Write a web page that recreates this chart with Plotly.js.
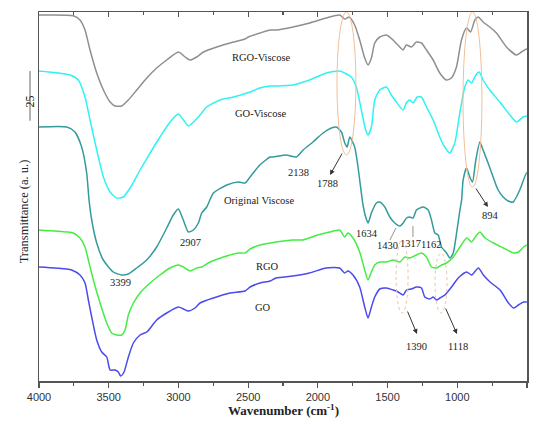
<!DOCTYPE html>
<html>
<head>
<meta charset="utf-8">
<script src="https://cdn.plot.ly/plotly-3.0.1.min.js"></script>
<style>html,body{margin:0;padding:0;background:#fff;}#chart{width:536px;height:425px;}</style>
</head>
<body>
<div id="chart"></div>
<script>
// ---- Data (wavenumber in cm^-1, transmittance in a.u., curves offset as in the figure) ----
const rgoViscoseX = [4000,3754,3706,3670,3634,3586,3538,3490,3455,3407,3359,3299,3227,3156,3084,3000,2952,2916,2869,2821,2725,2605,2522,2498,2414,2342,2298,2178,2059,1939,1843,1807,1776,1736,1700,1664,1640,1616,1592,1556,1508,1461,1413,1389,1365,1329,1293,1257,1221,1173,1126,1078,1042,1006,970,934,905,874,850,815,767,719,647,576,540,504,500];
const rgoViscoseY = [183,182.6,180.5,175.5,165.5,154,145.5,139.5,137.5,137.5,140.5,145.5,151.5,156.5,160.5,164.5,162,160.5,162,164.5,167,169.5,171,172,174,175.5,175.5,177,179,181.5,183,181,182,178,170.5,161.5,158,161.5,169,172,173,170.5,167,165.5,168,167,169.5,169,165.5,160.5,154,150.5,151.5,157,170.5,176.5,174.5,180.5,182,179.5,177,174,167,163,164.5,166,166];

const goViscoseX = [4000,3778,3718,3670,3634,3586,3538,3490,3443,3395,3347,3275,3203,3132,3060,3000,2964,2928,2892,2857,2797,2701,2605,2486,2417,2342,2298,2178,2059,1939,1843,1795,1760,1724,1688,1657,1640,1616,1592,1556,1508,1473,1437,1389,1365,1341,1317,1288,1257,1221,1173,1126,1090,1054,1018,982,946,922,898,867,843,815,767,695,623,576,528,504,500];
const goViscoseY = [155,153,150.5,142,130.5,115.5,102,94.5,91.5,92,96.5,105.5,114,122,129.5,133.5,130.5,127.5,129.5,132,137,140.5,142,144.5,146.5,147.5,147.5,148,150.5,154,155,153.5,152,147,135.5,125.5,123,127,140.5,145.5,147,143,139.5,135.5,139,140.5,139,142,142,137,130.5,122,117,114,119,134,147,150.5,149,153,154.5,150.5,145.5,139.5,133,129.5,132,132.5,132.5];

const viscoseX = [4000,3801,3742,3694,3658,3641,3622,3586,3539,3467,3407,3360,3299,3228,3156,3084,3037,3001,2965,2929,2893,2857,2833,2797,2749,2653,2570,2522,2486,2416,2342,2322,2226,2154,2106,2035,1963,1903,1867,1831,1807,1790,1771,1736,1712,1688,1676,1657,1640,1616,1580,1556,1520,1484,1448,1412,1388,1364,1341,1317,1293,1245,1209,1185,1161,1137,1113,1077,1053,1029,1005,981,969,958,934,910,891,867,838,815,779,743,707,671,635,599,576,552,504,500];
const viscoseY = [127,127,124.5,117,104,90.5,80.5,69,60.5,54.5,53,53.5,56.5,60.5,67,76.5,83,86,80.5,74.5,75.5,79,84,87,94,98,99.5,99,102,108,112,112,113,112,115.5,119.5,124,126.5,127,124.5,119,117,122,117,107,94,88,82,79,84,89,89.5,87,82,79,77.5,79,81.5,82,81.5,85.5,87,85.5,80.5,74,73,67,64,61.5,64,74,85.5,90.5,100.5,106.5,102,99.5,110.5,119.5,115.5,109,102,95.5,92,90,89.5,92,95.5,104,104];

const rgoX = [4000,3801,3754,3706,3670,3646,3610,3562,3514,3479,3443,3407,3383,3359,3323,3275,3203,3132,3060,3000,2964,2916,2869,2833,2773,2677,2570,2522,2486,2414,2342,2300,2180,2108,2000,1916,1844,1808,1784,1748,1700,1664,1640,1616,1592,1556,1508,1460,1412,1376,1341,1293,1257,1221,1185,1149,1113,1077,1029,981,933,897,861,837,801,741,669,597,561,525,501];
const rgoY = [75.5,74.5,74,71.5,67,60.5,50.5,39,29,24,23,23,25.5,33,39,44,49,53,56.5,58,57,55,56.5,57,59.5,62,64,64,66,68,69,69.5,70.5,70.5,73,74.5,75.5,72,74,71.5,64.5,55.5,50.5,54.5,58,59.5,59.5,60.5,59.5,62,61.5,63,64,62,57,56.5,58,59,62,67,71.5,69.5,73,74.5,71.5,69,66.5,64,64.5,67,68];

const goX = [4000,3801,3766,3706,3670,3646,3622,3586,3550,3514,3490,3455,3431,3414,3390,3359,3323,3275,3227,3156,3084,3000,2964,2928,2881,2845,2749,2629,2522,2486,2414,2342,2300,2180,2060,1940,1844,1808,1784,1748,1700,1664,1640,1616,1592,1556,1508,1460,1424,1388,1364,1329,1293,1257,1233,1197,1173,1149,1125,1089,1041,993,933,897,849,813,765,693,633,597,561,525,501];
const goY = [57,56,55.5,53,49,40.5,32,20.5,14.5,12,5.5,5.5,4.5,2.5,4.5,12,19,23,24.5,30.5,34,37,36,35,36.5,39,41.5,44,45,47,49,50,51.5,52.5,54,56.5,56.5,54,55,53,47,37,31.5,37,42,46,46.5,45.5,44.5,43,45.5,46,47,46.5,42,41,42,40.5,41.5,43,47,51.5,54.5,53,56.5,53,49.5,45.5,39,36.5,38,39.5,39.5];

const seriesNames = ['RGO-Viscose','GO-Viscose','Original Viscose','RGO','GO'];
const seriesColors = ['#8f8f8f','#2ff2f2','#359a9a','#45ec45','#4a4aee'];

// curve labels: [text, wavenumber, value]
const curveLabels = [
  ['RGO-Viscose', 2401, 162],
  ['GO-Viscose', 2408, 134],
  ['Original Viscose', 2422, 90.5],
  ['RGO', 2358, 57.5],
  ['GO', 2393, 37]
];
// peak labels: [text, wavenumber, value]
const peakLabels = [
  ['3399', 3412, 49.5],
  ['2907', 2917, 69.5],
  ['2138', 2142, 104.5],
  ['1788', 1934, 99],
  ['1634', 1648, 74],
  ['1430', 1500, 68],
  ['1317', 1335, 69],
  ['1162', 1182, 68.5],
  ['894', 765, 83],
  ['1390', 1289, 17.5],
  ['1118', 995, 17.5]
];
// arrows: [tailX, tailY, headX, headY]
const arrows = [
  [1820, 114.5, 1913, 103],
  [873, 97, 780, 87],
  [1361, 35.5, 1289, 23.5],
  [1088, 37, 1002, 23.5]
];
// highlight ellipses: [x0, x1, y0, y1, dotted]
const ellipses = [
  [1863, 1727, 184.5, 113, false],
  [959, 823, 184.5, 97, false],
  [1439, 1353, 70.5, 34, true],
  [1160, 1074, 64, 34, true]
];
const xTicks = [4000,3500,3000,2500,2000,1500,1000,500];
const scaleBarValue = '25';

// ---- Build ----
const xs = [rgoViscoseX, goViscoseX, viscoseX, rgoX, goX];
const ys = [rgoViscoseY, goViscoseY, viscoseY, rgoY, goY];
const traces = xs.map((x, i) => ({
  x: x, y: ys[i], type: 'scatter', mode: 'lines', name: seriesNames[i],
  line: {color: seriesColors[i], width: 1.5, shape: 'spline', smoothing: 0.6},
  showlegend: false, hoverinfo: 'skip'
}));
// invisible helper trace to carry the top mirror axis
traces.push({x: [4000], y: [0], xaxis: 'x2', yaxis: 'y', mode: 'markers', marker: {opacity: 0}, showlegend: false, hoverinfo: 'skip'});

const serif = 'Liberation Serif, Times New Roman, serif';
const annotations = [];
curveLabels.forEach(l => annotations.push({x: l[1], y: l[2], text: l[0], showarrow: false, font: {family: serif, size: 10.5, color: '#222'}}));
peakLabels.forEach(l => annotations.push({x: l[1], y: l[2], text: l[0], showarrow: false, font: {family: serif, size: 10.5, color: '#222'}}));
arrows.forEach(a => annotations.push({x: a[2], y: a[3], ax: a[0], ay: a[1], axref: 'x', ayref: 'y', text: '', showarrow: true, arrowhead: 2, arrowsize: 1, arrowwidth: 1, arrowcolor: '#333', standoff: 0, startstandoff: 0}));
annotations.push({xref: 'paper', yref: 'paper', x: 0.5, y: -0.105, text: '<b>Wavenumber (cm<sup>-1</sup>)</b>', showarrow: false, font: {family: serif, size: 13, color: '#222'}});
annotations.push({xref: 'paper', yref: 'paper', x: -0.049, y: 0.46, text: 'Transmittance (a. u.)', textangle: -90, showarrow: false, font: {family: serif, size: 12.5, color: '#222'}});
annotations.push({xref: 'paper', yref: 'paper', x: -0.036, y: 0.78, text: scaleBarValue, textangle: -90, showarrow: false, font: {family: serif, size: 12, color: '#222'}});

const shapes = [];
ellipses.forEach(e => shapes.push({type: 'circle', xref: 'x', yref: 'y', x0: e[0], x1: e[1], y0: e[2], y1: e[3], line: {color: '#f3bf98', width: 1, dash: e[4] ? 'dot' : 'solid'}}));
shapes.push({type: 'line', xref: 'paper', yref: 'paper', x0: -0.0184, x1: -0.0184, y0: 0.705, y1: 0.84, line: {color: '#999', width: 1.5}});
shapes.push({type: 'line', xref: 'x', yref: 'y', x0: 1483, y0: 70.5, x1: 1440, y1: 76.5, line: {color: '#777', width: 0.8}});
shapes.push({type: 'line', xref: 'x', yref: 'y', x0: 1318, y0: 72, x1: 1318, y1: 77.5, line: {color: '#777', width: 0.8}});

const axisCommon = {range: [4000, 500], showgrid: false, zeroline: false, tickvals: xTicks};
const layout = {
  width: 536, height: 425,
  margin: {l: 39, r: 9, t: 12, b: 44},
  paper_bgcolor: '#fff', plot_bgcolor: '#fff',
  xaxis: Object.assign({}, axisCommon, {
    showline: true, linecolor: '#555', linewidth: 1.5, mirror: true,
    ticks: 'outside', ticklen: 5, tickwidth: 1.2, tickcolor: '#555',
    minor: {ticks: 'outside', ticklen: 3, tickwidth: 1.2, tickcolor: '#555', dtick: 250},
    tickfont: {family: 'Liberation Sans, Arial, sans-serif', size: 11, color: '#333'}
  }),
  xaxis2: Object.assign({}, axisCommon, {
    overlaying: 'x', side: 'top', anchor: 'y', showline: false, showticklabels: false,
    ticks: 'inside', ticklen: 5, tickwidth: 1.2, tickcolor: '#555',
    minor: {ticks: 'inside', ticklen: 3, tickwidth: 1.2, tickcolor: '#555', dtick: 250}
  }),
  yaxis: {range: [0, 184.5], showgrid: false, zeroline: false, showticklabels: false, ticks: '',
    showline: true, linecolor: '#555', linewidth: 1.5, mirror: true},
  annotations: annotations,
  shapes: shapes
};
Plotly.newPlot('chart', traces, layout, {staticPlot: true, displayModeBar: false});
</script>
</body>
</html>
